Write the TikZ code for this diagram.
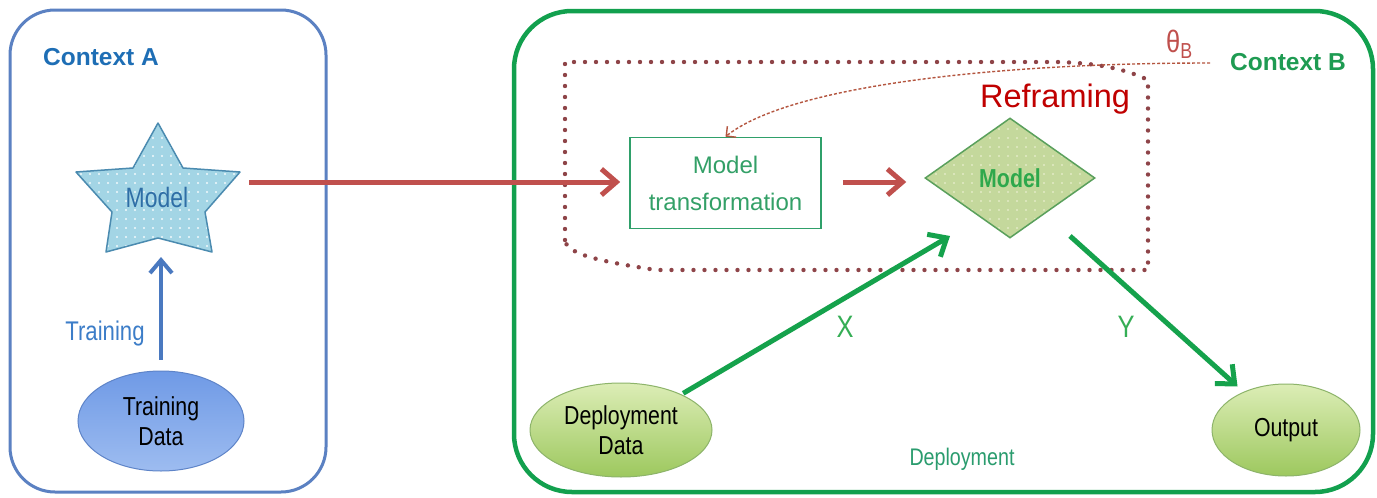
\documentclass[tikz,border=0pt]{standalone}
\usepackage{fontspec}
\setmainfont{Liberation Sans}
\newfontfamily\narrowfont{Liberation Sans}[FakeStretch=0.82]
\usetikzlibrary{shapes.geometric,arrows.meta,patterns.meta,calc}

\definecolor{ctxA}{HTML}{5B81C2}
\definecolor{ctxAtext}{HTML}{1E6EB5}
\definecolor{starfill}{HTML}{A3D5E5}
\definecolor{starborder}{HTML}{4B8BB0}
\definecolor{startext}{HTML}{2F6EA6}
\definecolor{bluearr}{HTML}{4A79C0}
\definecolor{trainlbl}{HTML}{3C7DC8}
\definecolor{redarr}{HTML}{C0504D}
\definecolor{ctxB}{HTML}{12A04E}
\definecolor{ctxBtext}{HTML}{1E9B52}
\definecolor{dotred}{HTML}{8E4448}
\definecolor{dashred}{HTML}{B4553F}
\definecolor{mtborder}{HTML}{2FA06A}
\definecolor{mttext}{HTML}{33A067}
\definecolor{reframe}{HTML}{C00000}
\definecolor{thetacol}{HTML}{C0504D}
\definecolor{diamfill}{HTML}{C4D89C}
\definecolor{diamdots}{HTML}{E2EBC6}
\definecolor{diamborder}{HTML}{5AA05C}
\definecolor{diamtext}{HTML}{2EA84C}
\definecolor{greenarr}{HTML}{15A24C}
\definecolor{xytext}{HTML}{35AE55}
\definecolor{deplbl}{HTML}{2A9C6E}
\definecolor{tdtop}{HTML}{6F9AE6}
\definecolor{tdbot}{HTML}{9DBCF0}
\definecolor{tdborder}{HTML}{5E84C8}
\definecolor{ddtop}{HTML}{DCEDB6}
\definecolor{ddbot}{HTML}{9DC85E}
\definecolor{ddborder}{HTML}{8DB46A}

\tikzdeclarepattern{
  name=bigdots,
  type=uncolored,
  bounding box={(-4.5pt,-4.5pt) and (4.5pt,4.5pt)},
  tile size={(9pt,9pt)},
  code={\fill (0pt,0pt) circle (1.1pt);}
}

\begin{document}
\begin{tikzpicture}[x=1pt,y=-1pt,
  ctxbox/.style={rounded corners=#1},
  bigarrow/.style={line width=5pt,-{Straight Barb[length=15pt,width=26pt]}},
  datanode/.style={ellipse, inner sep=0pt, align=center, text=black,
     font={\narrowfont\fontsize{26}{30}\selectfont}},
  lbl/.style={inner sep=0pt, anchor=base},
]
\useasboundingbox (0,0) rectangle (1377,498);
\fill[white] (0,0) rectangle (1377,498);

% ---------- Context A ----------
\draw[ctxA, line width=3pt, ctxbox=45pt] (10,10) rectangle (326,492);
\node[lbl, anchor=base west, text=ctxAtext, font={\bfseries\fontsize{24.5}{28}\selectfont}]
  (ctxa) at (43,65) {Context A};

% star
\draw[starborder, line width=1.5pt, line join=round,
      preaction={fill=starfill},
      preaction={pattern=bigdots, pattern color=white!85!starfill}]
  (158,123) -- (183,168) -- (240,172) -- (205,212) -- (212,252) -- (158,238)
  -- (106,252) -- (112,212) -- (76,172) -- (133,168) -- cycle;
\node[lbl, text=startext, font={\narrowfont\fontsize{28}{32}\selectfont}]
  (model1) at (157,207) {Model};
\coordinate (starbot) at (161,257);
\coordinate (starR) at (249,182);

\node[datanode, minimum width=166pt, minimum height=100pt,
      draw=tdborder, line width=1pt, top color=tdtop, bottom color=tdbot]
  (td) at (161,421) {Training\\Data};
\draw[bluearr, line width=4pt, shorten <=11pt, -{Straight Barb[length=13pt,width=22pt]}]
  (td) -- (starbot);
\node[lbl, text=trainlbl, font={\narrowfont\fontsize{27}{30}\selectfont}]
  (trainlbl) at (105,340) {Training};

% ---------- Context B ----------
\draw[ctxB, line width=4.5pt, ctxbox=58pt] (514,11) rectangle (1373,492);
\node[lbl, anchor=base west, text=ctxBtext, font={\bfseries\fontsize{24.5}{28}\selectfont}]
  (ctxb) at (1230,70) {Context B};

% reframing frame (dotted)
\draw[dotred, line width=4.4pt, line cap=round, dash pattern=on 0pt off 11pt]
  (565,240) -- (565,62) -- (1057,62) .. controls (1100,63) and (1128,70) .. (1148,80)
  -- (1148,270) -- (656,270) .. controls (605,262) and (566,255) .. (565,240);
\node[lbl, text=reframe, font={\fontsize{32.5}{36}\selectfont}]
  (refr) at (1055,107) {Reframing};

% model transformation
\node[draw=mtborder, line width=1.6pt, minimum width=191pt, minimum height=91pt,
      inner sep=0pt, align=center, text=mttext,
      font={\fontsize{24}{37}\selectfont}]
  (mt) at (725.5,183) {Model\\transformation};

% diamond model
\node[diamond, minimum width=170pt, minimum height=120pt, inner sep=0pt,
      draw=diamborder, line width=1.5pt,
      preaction={fill=diamfill},
      preaction={pattern=bigdots, pattern color=diamdots},
      text=diamtext, font={\narrowfont\bfseries\fontsize{26}{30}\selectfont}]
  (diam) at (1010,178) {Model};

% theta
\node[lbl, anchor=base west, text=thetacol, font={\narrowfont\fontsize{31}{34}\selectfont}]
  (theta) at (1166,52) {θ\textsubscript{B}};
\coordinate (thetaend) at (1210,63);
\draw[dashred, line width=1.4pt, dash pattern=on 3pt off 2pt,
      -{Straight Barb[length=7pt,width=14pt]}]
  (thetaend) .. controls (1000,63) and (790,85) .. (mt.north);

% arrows
\draw[redarr, bigarrow, shorten >=9pt] (starR) -- (starR -| mt.west);
\draw[redarr, bigarrow, shorten <=21pt, shorten >=18pt] (mt.east |- starR) -- (starR -| diam.west);

\node[datanode, minimum width=182pt, minimum height=94pt,
      draw=ddborder, line width=1pt, top color=ddtop, bottom color=ddbot]
  (dd) at (621,430) {Deployment\\Data};
\node[datanode, minimum width=148pt, minimum height=92pt,
      draw=ddborder, line width=1pt, top color=ddtop, bottom color=ddbot]
  (out) at (1286,430) {Output};

\coordinate (xtip) at (950,236);
\coordinate (ystart) at (1070,236);
\draw[greenarr, bigarrow, shorten <=2pt] (dd) -- (xtip);
\draw[greenarr, bigarrow, shorten >=8pt] (ystart) -- (out);

\node[lbl, text=xytext, font={\narrowfont\fontsize{31}{34}\selectfont}] (xl) at (845,337) {X};
\node[lbl, text=xytext, font={\narrowfont\fontsize{31}{34}\selectfont}] (yl) at (1126,337) {Y};
\node[lbl, text=deplbl, font={\narrowfont\fontsize{24}{28}\selectfont}] (depl) at (962,465) {Deployment};
\end{tikzpicture}
\end{document}
